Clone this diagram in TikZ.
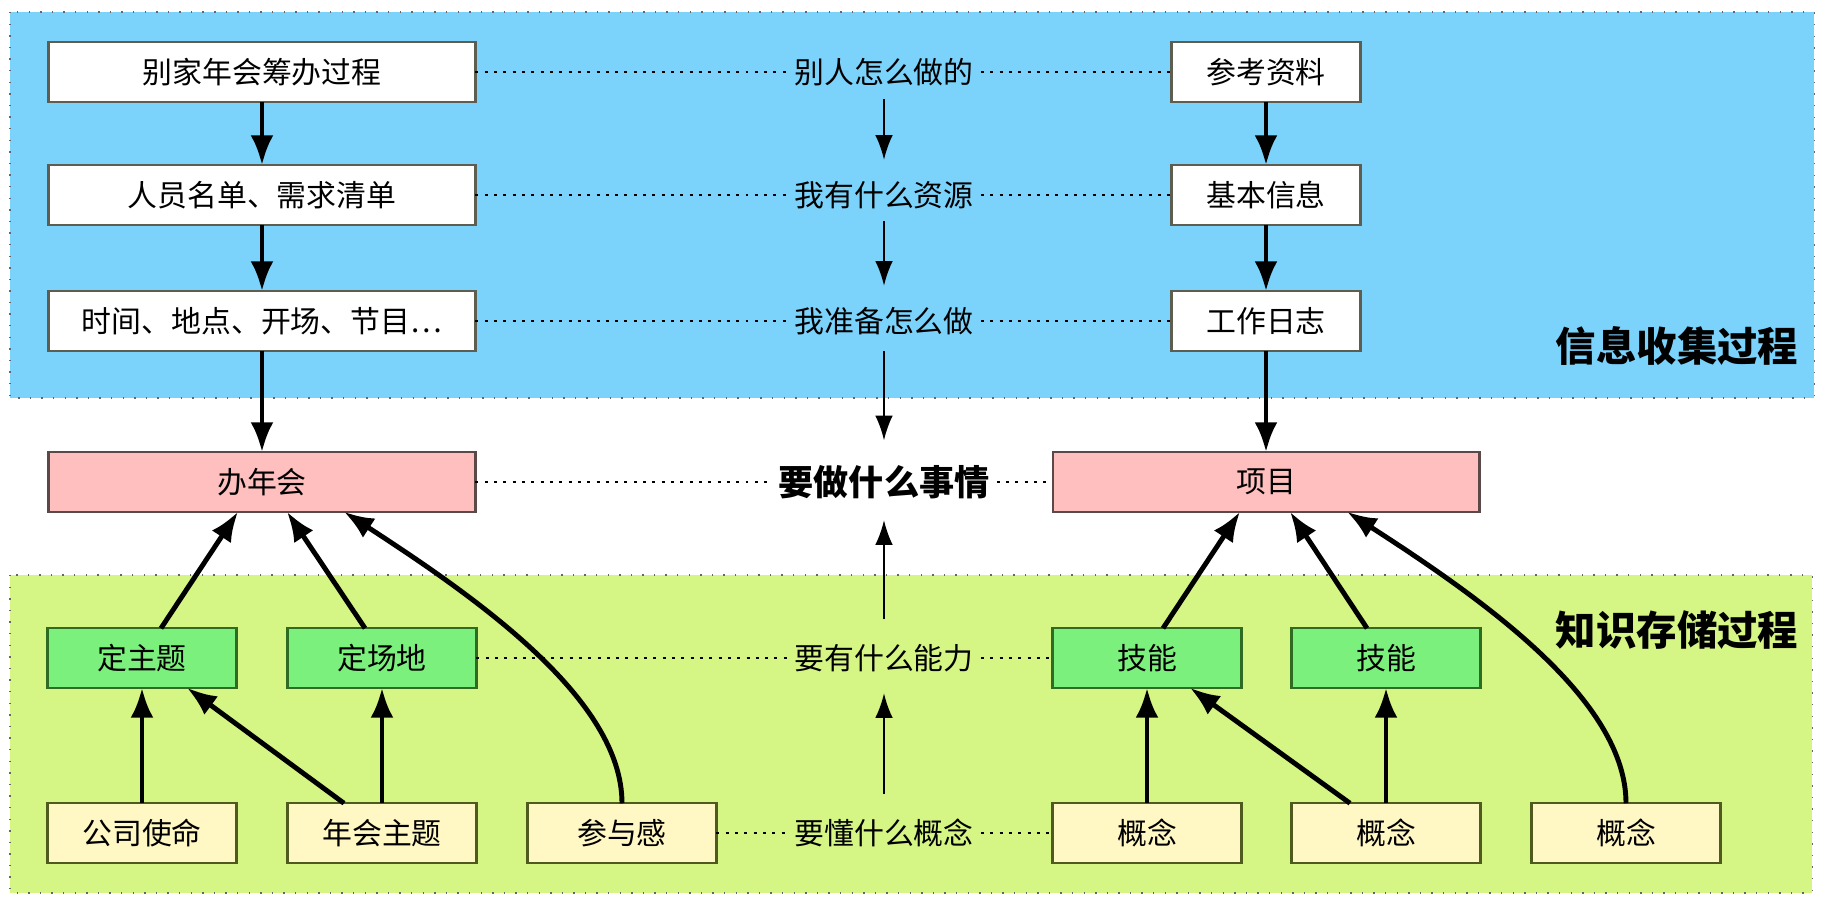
\documentclass[tikz,border=0pt]{standalone}
\usepackage{fontspec}
\setmainfont{Noto Sans CJK SC}
\usetikzlibrary{arrows.meta,positioning,calc}

\definecolor{infoblue}{HTML}{7BD3FC}
\definecolor{knowgreen}{HTML}{D5F584}
\definecolor{pinkfill}{HTML}{FFBFBF}
\definecolor{pinkline}{HTML}{5B4848}
\definecolor{greenfill}{HTML}{7CF07C}
\definecolor{greenline}{HTML}{2F6B22}
\definecolor{yellowfill}{HTML}{FFF8C5}
\definecolor{yellowline}{HTML}{4E5A1E}
\definecolor{whiteline}{HTML}{5E5E50}

\begin{document}
\begin{tikzpicture}[x=0.02cm,y=-0.02cm,
    box/.style={draw, line width=1.2pt, minimum height=1.19cm, inner sep=0pt, outer sep=0pt, font=\fontsize{17}{20}\selectfont},
    widebox/.style={box, minimum width=8.54cm},
    narrowbox/.style={box, minimum width=3.78cm},
    plainbox/.style={fill=white, draw=whiteline},
    pinkbox/.style={fill=pinkfill, draw=pinkline},
    greenbox/.style={fill=greenfill, draw=greenline},
    yellowbox/.style={fill=yellowfill, draw=yellowline},
    midlabel/.style={inner sep=4pt, font=\fontsize{17}{20}\selectfont},
    keylabel/.style={inner sep=4pt, font=\fontsize{20}{24}\selectfont\bfseries},
    titlelabel/.style={font=\fontsize{23}{28}\selectfont\bfseries},
    regionline/.style={draw=gray!80!black, line width=0.6pt, dash pattern=on 0.8pt off 5.8pt},
    dotline/.style={line width=1.7pt, dash pattern=on 1.7pt off 3.6pt},
    thickarrow/.style={line width=2.8pt, -{Latex[length=17pt,width=13pt]}},
    thinarrow/.style={line width=1.1pt, -{Latex[length=14pt,width=10pt]}}]
  \useasboundingbox (0,0) rectangle (1828,908);

  % regions
  \draw[regionline, fill=infoblue] (10,12) rectangle (1814,398);
  \draw[regionline, fill=knowgreen] (10,575) rectangle (1812,893);

  % left column
  \node[widebox, plainbox] (gather) at (262,72) {别家年会筹办过程};
  \node[widebox, plainbox] (roster) at (262,195) {人员名单、需求清单};
  \node[widebox, plainbox] (plan) at (262,321) {时间、地点、开场、节目…};
  \node[widebox, pinkbox] (party) at (262,482) {办年会};
  \node[narrowbox, greenbox] (theme) at (142,658) {定主题};
  \node[narrowbox, greenbox] (venue) at (382,658) {定场地};
  \node[narrowbox, yellowbox] (mission) at (142,833) {公司使命};
  \node[narrowbox, yellowbox] (partytheme) at (382,833) {年会主题};
  \node[narrowbox, yellowbox] (engage) at (622,833) {参与感};

  % right column
  \node[narrowbox, plainbox] (refs) at (1266,72) {参考资料};
  \node[narrowbox, plainbox] (basics) at (1266,195) {基本信息};
  \node[narrowbox, plainbox] (worklog) at (1266,321) {工作日志};
  \node[widebox, pinkbox] (project) at (1266,482) {项目};
  \node[narrowbox, greenbox] (skillA) at (1147,658) {技能};
  \node[narrowbox, greenbox] (skillB) at (1386,658) {技能};
  \node[narrowbox, yellowbox] (conceptA) at (1147,833) {概念};
  \node[narrowbox, yellowbox] (conceptB) at (1386,833) {概念};
  \node[narrowbox, yellowbox] (conceptC) at (1626,833) {概念};

  % middle questions
  \node[midlabel] (howothers) at (884,72) {别人怎么做的};
  \node[midlabel] (myres) at (884,195) {我有什么资源};
  \node[midlabel] (myplan) at (884,321) {我准备怎么做};
  \node[keylabel] (whattodo) at (884,482) {要做什么事情};
  \node[midlabel] (ability) at (884,658) {要有什么能力};
  \node[midlabel] (concept) at (884,833) {要懂什么概念};

  % titles
  \node[titlelabel] (infotitle) at (1677,346) {信息收集过程};
  \node[titlelabel] (knowtitle) at (1677,630) {知识存储过程};

  % dotted links
  \draw[dotline] (gather) -- (howothers);
  \draw[dotline] (howothers) -- (refs);
  \draw[dotline] (roster) -- (myres);
  \draw[dotline] (myres) -- (basics);
  \draw[dotline] (plan) -- (myplan);
  \draw[dotline] (myplan) -- (worklog);
  \draw[dotline] (party) -- (whattodo);
  \draw[dotline] (whattodo) -- (project);
  \draw[dotline] (venue) -- (ability);
  \draw[dotline] (ability) -- (skillA);
  \draw[dotline] (engage) -- (concept);
  \draw[dotline] (concept) -- (conceptA);

  % middle arrows
  \draw[thinarrow, shorten <=3pt, shorten >=8pt] (howothers) -- (myres);
  \draw[thinarrow, shorten <=3pt, shorten >=8pt] (myres) -- (myplan);
  \draw[thinarrow, shorten <=5pt, shorten >=10pt] (myplan) -- (whattodo);
  \draw[thinarrow, shorten <=10pt, shorten >=8pt] (ability) -- (whattodo);
  \draw[thinarrow, shorten <=10pt, shorten >=8pt] (concept) -- (ability);

  % left arrows
  \draw[thickarrow] (gather) -- (roster);
  \draw[thickarrow] (roster) -- (plan);
  \draw[thickarrow] (plan) -- (party);
  \draw[thickarrow] ([xshift=0.38cm]theme.north) -- ([xshift=-0.48cm]party.south);
  \draw[thickarrow] ([xshift=-0.34cm]venue.north) -- ([xshift=0.5cm]party.south);
  \draw[thickarrow] (engage.north) .. controls (622,700) and (480,600) .. ([xshift=1.64cm]party.south);
  \draw[thickarrow] (mission) -- (theme);
  \draw[thickarrow] ([xshift=-0.76cm]partytheme.north) -- ([xshift=0.9cm]theme.south);
  \draw[thickarrow] (partytheme) -- (venue);

  % right arrows
  \draw[thickarrow] (refs) -- (basics);
  \draw[thickarrow] (basics) -- (worklog);
  \draw[thickarrow] (worklog) -- (project);
  \draw[thickarrow] ([xshift=0.32cm]skillA.north) -- ([xshift=-0.52cm]project.south);
  \draw[thickarrow] ([xshift=-0.38cm]skillB.north) -- ([xshift=0.48cm]project.south);
  \draw[thickarrow] (conceptC.north) .. controls (1626,700) and (1484,600) .. ([xshift=1.62cm]project.south);
  \draw[thickarrow] (conceptA) -- (skillA);
  \draw[thickarrow] ([xshift=-0.72cm]conceptB.north) -- ([xshift=0.86cm]skillA.south);
  \draw[thickarrow] (conceptB) -- (skillB);
\end{tikzpicture}
\end{document}
